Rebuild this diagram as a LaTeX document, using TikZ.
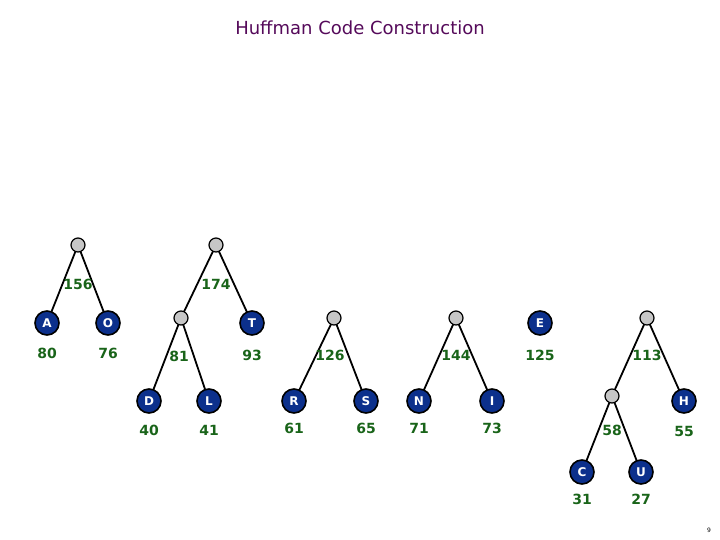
\documentclass[tikz,border=0pt]{standalone}
\usepackage{fontspec}
\setmainfont{DejaVu Sans}
\usetikzlibrary{backgrounds}
\definecolor{nodeblue}{RGB}{12,48,140}
\definecolor{numgreen}{RGB}{25,100,25}
\definecolor{titlepurple}{RGB}{85,10,90}
\begin{document}
\begin{tikzpicture}[x=1pt,y=-1pt,
  leaf/.style={circle,draw=black,line width=1.6pt,fill=nodeblue,minimum size=24pt,inner sep=0pt,text=white,font=\fontsize{12}{12}\selectfont\bfseries},
  inner/.style={circle,draw=black,line width=1.2pt,fill=gray!45,minimum size=14pt,inner sep=0pt},
  num/.style={text=numgreen,font=\fontsize{14}{14}\selectfont\bfseries},
  edge/.style={line width=1.8pt,black}]
\useasboundingbox (0,0) rectangle (720,540);
\node[text=titlepurple,font=\fontsize{18}{18}\selectfont] (title) at (360,28) {Huffman Code Construction};
% tree 1
\node[inner] (r1) at (78,245) {};
\node[leaf] (A) at (47,323) {A};
\node[leaf] (O) at (108,323) {O};
% tree 2
\node[inner] (r2) at (216,245) {};
\node[inner] (i81) at (181,318) {};
\node[leaf] (T) at (252,323) {T};
\node[leaf] (D) at (149,401) {D};
\node[leaf] (L) at (209,401) {L};
% tree 3
\node[inner] (r3) at (334,318) {};
\node[leaf] (R) at (294,401) {R};
\node[leaf] (S) at (366,401) {S};
% tree 4
\node[inner] (r4) at (456,318) {};
\node[leaf] (N) at (419,401) {N};
\node[leaf] (I) at (492,401) {I};
% E
\node[leaf] (E) at (540,323) {E};
% tree 5
\node[inner] (r5) at (647,318) {};
\node[inner] (i58) at (612,396) {};
\node[leaf] (H) at (684,401) {H};
\node[leaf] (C) at (582,472) {C};
\node[leaf] (U) at (641,472) {U};
\begin{pgfonlayer}{background}
\foreach \a/\b in {r1/A,r1/O,r2/i81,r2/T,i81/D,i81/L,r3/R,r3/S,r4/N,r4/I,r5/i58,r5/H,i58/C,i58/U}
  \draw[edge] (\a.center) -- (\b.center);
\end{pgfonlayer}
% labels
\node[num] (n156) at (78,284) {156};
\node[num] (n80) at (47,353) {80};
\node[num] (n76) at (108,353) {76};
\node[num] (n174) at (216,284) {174};
\node[num] (n81) at (179,356) {81};
\node[num] (n93) at (252,355) {93};
\node[num] (n40) at (149,430) {40};
\node[num] (n41) at (209,430) {41};
\node[num] (n126) at (330,355) {126};
\node[num] (n61) at (294,428) {61};
\node[num] (n65) at (366,428) {65};
\node[num] (n144) at (456,355) {144};
\node[num] (n71) at (419,428) {71};
\node[num] (n73) at (492,428) {73};
\node[num] (n125) at (540,355) {125};
\node[num] (n113) at (647,355) {113};
\node[num] (n58) at (612,430) {58};
\node[num] (n55) at (684,431) {55};
\node[num] (n31) at (582,499) {31};
\node[num] (n27) at (641,499) {27};
\node[font=\fontsize{6}{6}\selectfont] (pg) at (709,530) {9};
\end{tikzpicture}
\end{document}
